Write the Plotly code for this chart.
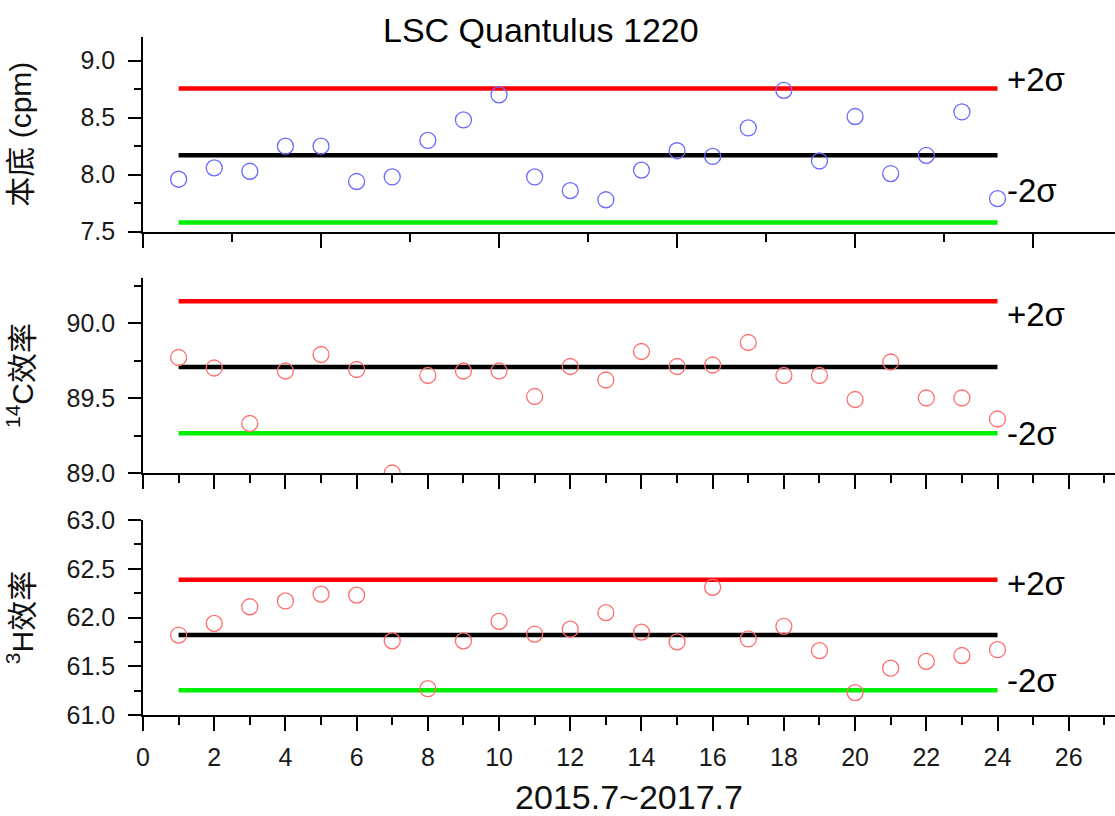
import plotly.graph_objects as go

W, H = 1115, 816

# ---------------- data ----------------
months = list(range(1, 25))

background_cpm = [7.96, 8.06, 8.03, 8.25, 8.25, 7.94, 7.98, 8.30, 8.48, 8.70, 7.98, 7.86,
                  7.78, 8.04, 8.21, 8.16, 8.41, 8.74, 8.12, 8.51, 8.01, 8.17, 8.55, 7.79]
c14_eff = [89.77, 89.70, 89.33, 89.68, 89.79, 89.69, 89.00, 89.65, 89.68, 89.68, 89.51, 89.71,
           89.62, 89.81, 89.71, 89.72, 89.87, 89.65, 89.65, 89.49, 89.74, 89.50, 89.50, 89.36]
h3_eff = [61.82, 61.94, 62.11, 62.17, 62.24, 62.23, 61.76, 61.27, 61.76, 61.96, 61.83, 61.88,
          62.05, 61.85, 61.75, 62.31, 61.78, 61.91, 61.66, 61.23, 61.48, 61.55, 61.61, 61.67]

# control limits: [lower (-2σ), mean, upper (+2σ)]
bg_limits = [7.58, 8.17, 8.755]
c14_limits = [89.265, 89.707, 90.145]
h3_limits = [61.255, 61.821, 62.386]

line_x = [1, 24]

y_titles = ["本底 (cpm)", "<sup>14</sup>C效率", "<sup>3</sup>H效率"]
x_title = "2015.7~2017.7"
chart_title = "LSC Quantulus 1220"
plus_label = "+2σ"
minus_label = "-2σ"

# ---------------- layout helpers ----------------
FONT = "Liberation Sans, Arial, Noto Sans CJK SC, sans-serif"
CJK = "Liberation Sans, Noto Sans CJK SC, sans-serif"


def py(px):
    return 1 - px / H


panels = [
    dict(vals=background_cpm, lim=bg_limits, color="#6a6aff", top=36.7, bot=231.7,
         yrange=[7.5, 9.21], xdt=5, xmin=2.5, xlabels=False,
         plus_y=80, minus_y=190, ystand=40),
    dict(vals=c14_eff, lim=c14_limits, color="#ff6e6e", top=278, bot=473,
         yrange=[89.0, 90.3], xdt=2, xmin=1, xlabels=False,
         plus_y=315, minus_y=433, ystand=24),
    dict(vals=h3_eff, lim=h3_limits, color="#ff6e6e", top=520, bot=715,
         yrange=[61.0, 63.0], xdt=2, xmin=1, xlabels=True,
         plus_y=583, minus_y=680, ystand=24),
]

fig = go.Figure()
layout = dict(
    width=W, height=H,
    margin=dict(l=0, r=0, t=0, b=0, pad=0, autoexpand=False),
    paper_bgcolor="white", plot_bgcolor="white",
    showlegend=False,
    font=dict(family=FONT, color="#111111"),
)
annotations = []

for i, p in enumerate(panels, start=1):
    xa = "x" if i == 1 else f"x{i}"
    ya = "y" if i == 1 else f"y{i}"
    lo, mean, hi = p["lim"]
    for val, col in [(hi, "#ff0000"), (mean, "#000000"), (lo, "#00ee00")]:
        fig.add_trace(go.Scatter(x=line_x, y=[val, val], mode="lines",
                                 line=dict(color=col, width=4.5),
                                 xaxis=xa, yaxis=ya, hoverinfo="skip"))
    fig.add_trace(go.Scatter(x=months, y=p["vals"], mode="markers",
                             marker=dict(symbol="circle-open", size=16, color=p["color"],
                                         line=dict(width=1.3, color=p["color"])),
                             xaxis=xa, yaxis=ya))

    xkey = "xaxis" if i == 1 else f"xaxis{i}"
    ykey = "yaxis" if i == 1 else f"yaxis{i}"
    layout[xkey] = dict(
        domain=[143 / W, 1.0], anchor=ya, range=[0, 27.3], automargin=False,
        showgrid=False, zeroline=False, showline=True, linecolor="black", linewidth=1.6,
        ticks="outside", ticklen=14, tickwidth=1.6, tickcolor="black",
        tick0=0, dtick=p["xdt"], showticklabels=p["xlabels"],
        tickfont=dict(size=25, family=FONT, color="#1a1a1a"),
        ticklabelstandoff=5,
        minor=dict(ticks="outside", ticklen=8, tickwidth=1.6, tickcolor="black",
                   dtick=p["xmin"], tick0=0, showgrid=False),
    )
    if p["xlabels"]:
        layout[xkey]["title"] = dict(text=x_title, font=dict(size=34, family=FONT, color="#111111"),
                                     standoff=18)
    layout[ykey] = dict(
        domain=[py(p["bot"]), py(p["top"])], anchor=xa, range=p["yrange"], automargin=False,
        showgrid=False, zeroline=False, showline=True, linecolor="black", linewidth=1.6,
        ticks="outside", ticklen=13, tickwidth=1.6, tickcolor="black",
        tick0=0, dtick=0.5, tickformat=".1f",
        tickfont=dict(size=25, family=FONT, color="#1a1a1a"),
        ticklabelstandoff=8,
        minor=dict(ticks="outside", ticklen=7, tickwidth=1.6, tickcolor="black",
                   dtick=0.25, tick0=0, showgrid=False),
        title=dict(text=y_titles[i - 1], font=dict(size=30, family=CJK, color="#111111"),
                   standoff=p["ystand"]),
    )

    for txt, ypx in [(plus_label, p["plus_y"]), (minus_label, p["minus_y"])]:
        annotations.append(dict(text=txt, xref="paper", yref="paper",
                                x=1005 / W, y=py(ypx), xanchor="left", yanchor="middle",
                                showarrow=False,
                                font=dict(size=33, family=FONT, color="#000000")))

annotations.append(dict(text=chart_title, xref="paper", yref="paper",
                        x=541 / W, y=py(30), xanchor="center", yanchor="middle",
                        showarrow=False, font=dict(size=34, family=FONT, color="#000000")))
layout["annotations"] = annotations

fig.update_layout(**layout)
fig.write_html("out.html")
